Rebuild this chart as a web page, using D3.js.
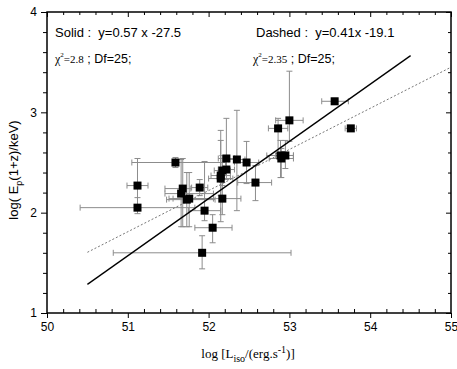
<!DOCTYPE html>
<html>
<head>
<meta charset="utf-8">
<script src="https://d3js.org/d3.v7.min.js"></script>
<style>
  body { margin: 0; background: #fff; }
  svg { display: block; }
</style>
</head>
<body>
<svg id="chart" width="457" height="369"></svg>
<script>
// data
const logL  = [51.12, 51.12, 51.59, 51.68, 51.66, 51.73, 51.76, 51.89, 51.95, 52.05, 51.92, 52.17, 52.15, 52.15,
               52.17, 52.22, 52.22, 52.35, 52.47, 52.58, 53.56, 53.00, 52.86, 53.76, 52.89, 52.95, 52.90]
const logEp = [2.27, 2.05, 2.50, 2.24, 2.19, 2.13, 2.14, 2.25, 2.02, 1.85, 1.60, 2.14, 2.34, 2.37,
               2.42, 2.43, 2.54, 2.53, 2.50, 2.30, 3.11, 2.92, 2.84, 2.84, 2.57, 2.57, 2.54]
const xErrLo = [0.13, 0.71, 0.54, 0.22, 0.20, 0.25, 0.20, 0.10, 0.20, 0.22, 1.10, 0.66, 0.15, 0.12,
                0.10, 0.10, 0.10, 0.10, 0.15, 0.22, 0.16, 0.17, 0.12, 0.07, 0.17, 0.12, 0.15]
const xErrHi = [0.13, 0.71, 0.62, 0.10, 0.40, 0.35, 0.30, 0.10, 0.20, 0.24, 1.10, 0.23, 0.15, 0.12,
                0.10, 0.10, 0.10, 0.10, 0.15, 0.20, 0.17, 0.17, 0.12, 0.07, 0.16, 0.10, 0.15]
const yErrLo = [0.20, 0.06, 0.05, 0.38, 0.33, 0.27, 0.28, 0.08, 0.10, 0.15, 0.16, 0.16, 0.43, 0.20,
                0.15, 0.10, 0.10, 0.51, 0.21, 0.18, 0.03, 0.21, 0.25, 0.03, 0.22, 0.13, 0.19]
const yErrHi = [0.27, 0.10, 0.05, 0.30, 0.34, 0.27, 0.26, 0.08, 0.49, 0.13, 0.17, 0.16, 0.48, 0.35,
                0.15, 0.10, 0.40, 0.49, 0.21, 0.17, 0.03, 0.49, 0.10, 0.03, 0.15, 0.15, 0.10]

// fits: [slope, intercept, xStart, xEnd]
const solidFit  = [0.57, -27.5, 50.5, 54.5]
const dashedFit = [0.41, -19.1, 50.5, 55]

const xTicks = [50, 51, 52, 53, 54, 55]
const yTicks = [1, 2, 3, 4]

const svg = d3.select('#chart')
const mLeft = 47, mRight = 451, mTop = 12, mBottom = 313

const x = d3.scaleLinear().domain([50, 55]).range([mLeft, mRight])
const y = d3.scaleLinear().domain([1, 4]).range([mBottom, mTop])

const points = logL.map((d, i) => ({
  x: d, y: logEp[i],
  xl: d - xErrLo[i], xh: d + xErrHi[i],
  yl: logEp[i] - yErrLo[i], yh: logEp[i] + yErrHi[i]
}))

// error bars
const errG = svg.append('g')
  .attr('stroke', '#8c8c8c')
  .attr('stroke-width', 1)
  .attr('fill', 'none')

const cap = 3
points.forEach(p => {
  errG.append('line')
    .attr('x1', x(p.xl)).attr('x2', x(p.xh))
    .attr('y1', y(p.y)).attr('y2', y(p.y))
  errG.append('line')
    .attr('x1', x(p.xl)).attr('x2', x(p.xl))
    .attr('y1', y(p.y) - cap).attr('y2', y(p.y) + cap)
  errG.append('line')
    .attr('x1', x(p.xh)).attr('x2', x(p.xh))
    .attr('y1', y(p.y) - cap).attr('y2', y(p.y) + cap)
  errG.append('line')
    .attr('x1', x(p.x)).attr('x2', x(p.x))
    .attr('y1', y(p.yl)).attr('y2', y(p.yh))
  errG.append('line')
    .attr('x1', x(p.x) - cap).attr('x2', x(p.x) + cap)
    .attr('y1', y(p.yl)).attr('y2', y(p.yl))
  errG.append('line')
    .attr('x1', x(p.x) - cap).attr('x2', x(p.x) + cap)
    .attr('y1', y(p.yh)).attr('y2', y(p.yh))
})

// fit lines
function fitLine(f) {
  return d3.line().x(d => x(d)).y(d => y(f[0] * d + f[1]))([f[2], f[3]])
}
svg.append('path')
  .attr('d', fitLine(dashedFit))
  .attr('stroke', '#777')
  .attr('stroke-width', 1)
  .attr('stroke-dasharray', '2,2')
  .attr('fill', 'none')
svg.append('path')
  .attr('d', fitLine(solidFit))
  .attr('stroke', '#000')
  .attr('stroke-width', 1.3)
  .attr('fill', 'none')

// markers
const sz = 8
svg.append('g').selectAll('rect')
  .data(points)
  .enter()
  .append('rect')
  .attr('x', d => x(d.x) - sz / 2)
  .attr('y', d => y(d.y) - sz / 2)
  .attr('width', sz)
  .attr('height', sz)
  .attr('fill', '#000')

// axes (major ticks with labels, minor every 0.2)
const xMinor = d3.range(50, 55.001, 0.2).filter(v => Math.abs(v - Math.round(v)) > 0.01)
const yMinor = d3.range(1, 4.001, 0.2).filter(v => Math.abs(v - Math.round(v)) > 0.01)

svg.append('g')
  .attr('transform', `translate(0,${mBottom})`)
  .call(d3.axisBottom(x).tickValues(xTicks).tickFormat(d3.format('d')).tickSize(5).tickPadding(4))
svg.append('g')
  .attr('transform', `translate(0,${mBottom})`)
  .call(d3.axisTop(x).tickValues(xMinor).tickFormat('').tickSize(4))
svg.append('g')
  .attr('transform', `translate(${mLeft},0)`)
  .call(d3.axisLeft(y).tickValues(yTicks).tickFormat(d3.format('d')).tickSize(6).tickPadding(4))
svg.append('g')
  .attr('transform', `translate(${mLeft},0)`)
  .call(d3.axisLeft(y).tickValues(yMinor).tickFormat('').tickSize(4))
svg.append('g')
  .attr('transform', `translate(0,${mTop})`)
  .call(d3.axisBottom(x).tickValues(xTicks).tickFormat('').tickSize(5))
svg.append('g')
  .attr('transform', `translate(0,${mTop})`)
  .call(d3.axisBottom(x).tickValues(xMinor).tickFormat('').tickSize(3))
svg.append('g')
  .attr('transform', `translate(${mRight},0)`)
  .call(d3.axisLeft(y).tickValues(yTicks).tickFormat('').tickSize(5))
svg.append('g')
  .attr('transform', `translate(${mRight},0)`)
  .call(d3.axisLeft(y).tickValues(yMinor).tickFormat('').tickSize(3))

svg.selectAll('.domain').remove()
svg.selectAll('.tick line').attr('stroke', '#000')
svg.selectAll('.tick text')
  .attr('font-family', 'Arial, "Liberation Sans", sans-serif')
  .attr('font-size', 12)
  .attr('fill', '#000')

svg.append('rect')
  .attr('x', mLeft).attr('y', mTop)
  .attr('width', mRight - mLeft).attr('height', mBottom - mTop)
  .attr('fill', 'none')
  .attr('stroke', '#000')
  .attr('stroke-width', 1.5)

// annotations
const sans = 'Arial, "Liberation Sans", sans-serif'
const serif = '"Times New Roman", "Liberation Serif", serif'

svg.append('text').attr('x', 55).attr('y', 37)
  .attr('font-family', sans).attr('font-size', 13)
  .attr('xml:space', 'preserve')
  .text('Solid :  y=0.57 x -27.5')
svg.append('text').attr('x', 256).attr('y', 37)
  .attr('font-family', sans).attr('font-size', 13)
  .attr('xml:space', 'preserve')
  .text('Dashed :  y=0.41x -19.1')

function chiText(xp, val) {
  const t = svg.append('text').attr('x', xp).attr('y', 63)
    .attr('xml:space', 'preserve')
  t.append('tspan').attr('font-family', serif).attr('font-size', 12).text('χ')
  t.append('tspan').attr('font-family', serif).attr('font-size', 7).attr('dy', -6).text('2')
  t.append('tspan').attr('font-family', serif).attr('font-size', 11).attr('dy', 6).text('=' + val)
  t.append('tspan').attr('font-family', sans).attr('font-size', 12.5).text(' ; Df=25;')
}
chiText(55, '2.8')
chiText(253, '2.35')

// axis titles
const xt = svg.append('text')
  .attr('x', 248).attr('y', 358)
  .attr('text-anchor', 'middle')
  .attr('font-family', serif).attr('font-size', 13)
xt.append('tspan').text('log [L')
xt.append('tspan').attr('font-size', 10).attr('dy', 4).text('iso')
xt.append('tspan').attr('dy', -4).text('/(erg.s')
xt.append('tspan').attr('font-size', 10).attr('dy', -5).text('-1')
xt.append('tspan').attr('dy', 5).text(')]')

const yt = svg.append('text')
  .attr('transform', 'translate(18,170) rotate(-90)')
  .attr('text-anchor', 'middle')
  .attr('font-family', sans).attr('font-size', 13)
yt.append('tspan').text('log( E')
yt.append('tspan').attr('font-size', 9).attr('dy', 4).text('p')
yt.append('tspan').attr('dy', -4).text('(1+z)/keV)')
</script>
</body>
</html>
